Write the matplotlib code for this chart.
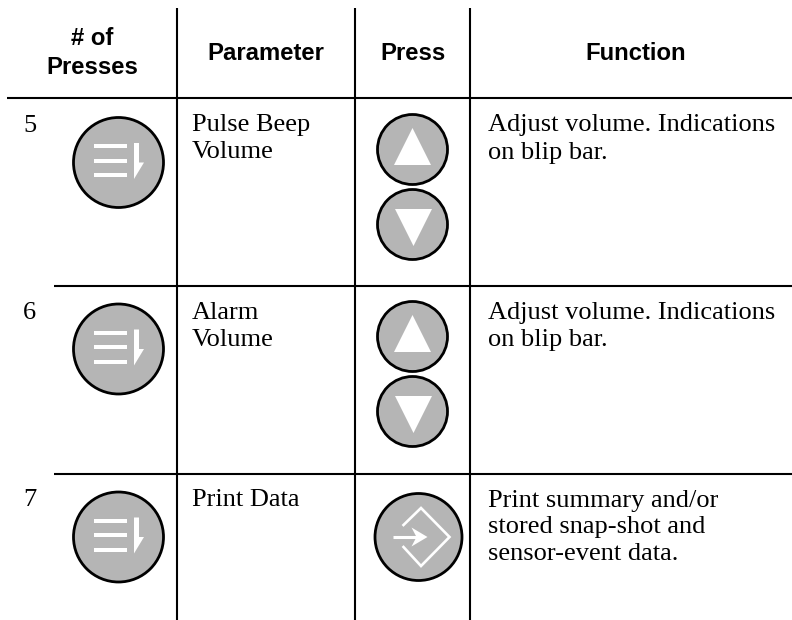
import matplotlib
matplotlib.use("Agg")
import matplotlib.pyplot as plt
from matplotlib.patches import Circle, Polygon

headers = ["# of\nPresses", "Parameter", "Press", "Function"]
header_x = [92, 265.5, 413, 636]
header_base = [45, 60, 60, 60]
presses = ["5", "6", "7"]
parameters = ["Pulse Beep\nVolume", "Alarm\nVolume", "Print Data"]
functions = ["Adjust volume. Indications\non blip bar.", "Adjust volume. Indications\non blip bar.",
             "Print summary and/or\nstored snap-shot and\nsensor-event data."]
baseline_y = [131.5, 319, 506.5]
menu_y = [162.5, 349, 537]

GREY = "#b5b5b5"
LINE_STEP = 27
HEAD_STEP = 29
fig = plt.figure(figsize=(7.92, 6.2), dpi=100)
ax = fig.add_axes([0, 0, 1, 1])
ax.set_xlim(0, 792); ax.set_ylim(620, 0); ax.axis("off")

lw = 1.5
for x in [176.8, 355, 470.4]:
    ax.plot([x, x], [8, 620], color="k", lw=lw, solid_capstyle="butt")
ax.plot([7, 792], [98, 98], color="k", lw=lw, solid_capstyle="butt")
ax.plot([54, 792], [285.7, 285.7], color="k", lw=lw, solid_capstyle="butt")
ax.plot([54, 792], [474, 474], color="k", lw=lw, solid_capstyle="butt")

for x, y, h in zip(header_x, header_base, headers):
    for k, line in enumerate(h.split("\n")):
        ax.text(x, y + k * HEAD_STEP, line, ha="center", va="baseline", family="Liberation Sans",
                fontweight="bold", fontsize=17.2)

def circle(cx, cy, r):
    ax.add_patch(Circle((cx, cy), r, fc=GREY, ec="k", lw=2))

def menu(cx, cy):
    circle(cx, cy, 45)
    for dy in [-16.5, -2, 12.5]:
        ax.add_patch(Polygon([[cx-24.5, cy+dy-2], [cx+8.5, cy+dy-2], [cx+8.5, cy+dy+2], [cx-24.5, cy+dy+2]], fc="w", ec="none"))
    ax.add_patch(Polygon([[cx+15.5, cy-19.5], [cx+20.5, cy-19.5], [cx+20.5, cy], [cx+25.5, cy], [cx+15.5, cy+16.5]], fc="w", ec="none"))

def up(cx, cy):
    circle(cx, cy, 35)
    ax.add_patch(Polygon([[cx, cy-21.5], [cx+18.5, cy+15.5], [cx-18.5, cy+15.5]], fc="w", ec="none"))

def down(cx, cy):
    circle(cx, cy, 35)
    ax.add_patch(Polygon([[cx+1, cy+21.5], [cx+19.5, cy-15.5], [cx-17.5, cy-15.5]], fc="w", ec="none"))

def lines(x, y, s):
    for k, line in enumerate(s.split("\n")):
        ax.text(x, y + k * LINE_STEP, line, ha="left", va="baseline", family="Liberation Serif", fontsize=19)

for i in range(3):
    lines(23, baseline_y[i], presses[i])
    lines(192, baseline_y[i], parameters[i])
    lines(488, baseline_y[i], functions[i])
    menu(118.5, menu_y[i])

for cy in [149.5, 336.5]:
    up(412.5, cy)
    down(412.5, cy + 75)

cx, cy = 418.5, 537
circle(cx, cy, 43.5)
ax.plot([cx-15, cx+2.5, cx+31, cx+2.5, cx-15], [cy-12, cy-29, cy, cy+29, cy+10], color="w", lw=1.9,
        solid_joinstyle="miter")
ax.plot([cx-26, cx+4], [cy, cy], color="w", lw=2.2, solid_capstyle="butt")
ax.add_patch(Polygon([[cx-7, cy-9.5], [cx+9, cy], [cx-7, cy+9.5], [cx-2, cy]], fc="w", ec="none"))

fig.savefig("out.png", dpi=100)
